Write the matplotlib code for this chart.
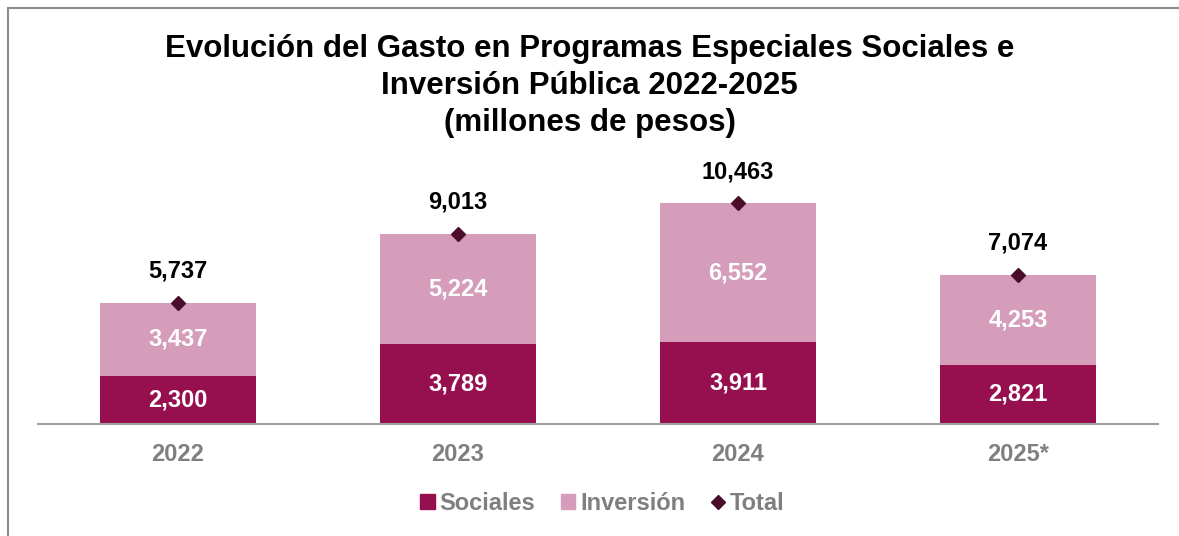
import matplotlib.pyplot as plt
from matplotlib.patches import Patch, Rectangle
from matplotlib.lines import Line2D

plt.rcParams['font.family'] = ['Liberation Sans', 'DejaVu Sans']

years = ['2022', '2023', '2024', '2025*']
sociales = [2300, 3789, 3911, 2821]
inversion = [3437, 5224, 6552, 4253]
totals = [5737, 9013, 10463, 7074]

c_soc = '#96104F'
c_inv = '#D59DBA'
c_tot = '#4A0D2C'
gray = '#7F7F7F'

fig = plt.figure(figsize=(11.79, 5.36), dpi=100)
ax = fig.add_axes([38 / 1179, 1 - 424 / 536, 1120 / 1179, 274 / 536])

x = list(range(len(years)))
ax.bar(x, sociales, width=0.557, color=c_soc, zorder=2)
ax.bar(x, inversion, width=0.557, bottom=sociales, color=c_inv, zorder=2)
ax.plot(x, totals, linestyle='none', marker='D', markersize=7, color=c_tot, zorder=3)

for i in x:
    ax.text(i, sociales[i] / 2, f'{sociales[i]:,}', ha='center', va='center',
            color='white', fontsize=17, fontweight='bold', zorder=4)
    ax.text(i, sociales[i] + inversion[i] / 2, f'{inversion[i]:,}', ha='center', va='center',
            color='white', fontsize=17, fontweight='bold', zorder=4)
    ax.annotate(f'{totals[i]:,}', (i, totals[i]), xytext=(0, 23), textcoords='offset points',
                ha='center', va='center', color='black', fontsize=17, fontweight='bold')

ax.set_xlim(-0.5, 3.5)
ax.set_ylim(0, 13000)
ax.set_xticks(x)
ax.set_xticklabels(years, color=gray, fontsize=17, fontweight='bold')
ax.tick_params(axis='x', length=0, pad=14)
ax.set_yticks([])
for s in ['top', 'right', 'left']:
    ax.spines[s].set_visible(False)
ax.spines['bottom'].set_color('#A0A0A0')
ax.spines['bottom'].set_linewidth(1.5)

fig.text(0.5, 1 - 86 / 536,
         'Evolución del Gasto en Programas Especiales Sociales e\nInversión Pública 2022-2025\n(millones de pesos)',
         ha='center', va='center', fontsize=22.5, fontweight='bold', linespacing=1.3)

handles = [Patch(color=c_soc, label='Sociales'),
           Patch(color=c_inv, label='Inversión'),
           Line2D([], [], linestyle='none', marker='D', markersize=7, color=c_tot, label='Total')]
leg = fig.legend(handles=handles, loc='center', bbox_to_anchor=(0.511, 1 - 503 / 536), ncol=3,
                 frameon=False, handlelength=0.6, handleheight=0.6, handletextpad=0.2,
                 columnspacing=1.1, prop={'size': 17, 'weight': 'bold'})
for t in leg.get_texts():
    t.set_color(gray)

fig.patches.append(Rectangle((8 / 1179, -0.1), 1.2, 1.1 - 8 / 536,
                             transform=fig.transFigure, fill=False,
                             edgecolor='#8C8C8C', linewidth=1.5))

fig.savefig('out.png', dpi=100)
